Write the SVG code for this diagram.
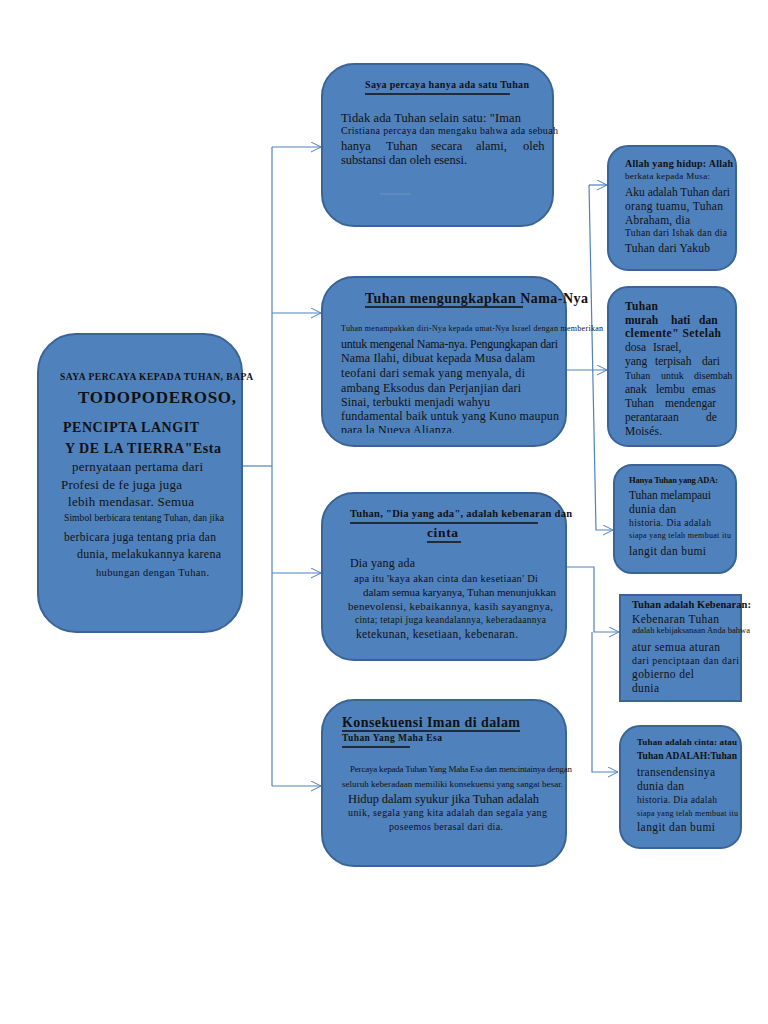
<svg xmlns="http://www.w3.org/2000/svg" width="768" height="1024" viewBox="0 0 768 1024">
<defs>
<marker id="arr" markerWidth="12" markerHeight="12" refX="10" refY="5" orient="auto" markerUnits="userSpaceOnUse">
<path d="M0,0 L10,5 L0,10" fill="none" stroke="#4f81bd" stroke-width="1"/>
</marker>
<clipPath id="clipN2"><rect x="322" y="277" width="244" height="156"/></clipPath>
</defs>
<style>
.node{fill:#4f81bd;stroke:#3a6396;stroke-width:2}
.conn{fill:none;stroke:#4f81bd;stroke-width:1.2}
text{font-family:"Liberation Serif","Times New Roman",serif;fill:#111}
.b{font-weight:bold}
.ul{stroke:#111;stroke-width:1.5}
</style>
<rect width="768" height="1024" fill="#ffffff"/>

<g id="connectors">
<path class="conn" d="M242,466 H272"/>
<path class="conn" d="M272,147 V786"/>
<path class="conn" d="M272,147 H321" marker-end="url(#arr)"/>
<path class="conn" d="M272,313 H321" marker-end="url(#arr)"/>
<path class="conn" d="M272,573 H321" marker-end="url(#arr)"/>
<path class="conn" d="M272,786 H321" marker-end="url(#arr)"/>
<path class="conn" d="M566,370 H607" marker-end="url(#arr)"/>
<path class="conn" d="M589,185 L596,530 H613" marker-end="url(#arr)"/>
<path class="conn" d="M589,185 H607" marker-end="url(#arr)"/>
<path class="conn" d="M566,567 H594 V632 H619" marker-end="url(#arr)"/>
<path class="conn" d="M592,632 V772 H618" marker-end="url(#arr)"/>
</g>

<g id="node-main">
<rect class="node" x="38" y="334" width="204" height="298" rx="38"/>
<text class="b" x="60" y="380" font-size="9.5" textLength="193">SAYA PERCAYA KEPADA TUHAN, BAPA</text>
<text class="b" x="78" y="403" font-size="17" textLength="158">TODOPODEROSO,</text>
<text class="b" x="63" y="432" font-size="14" textLength="136">PENCIPTA LANGIT</text>
<text class="b" x="65" y="453" font-size="14" textLength="156">Y DE LA TIERRA"Esta</text>
<text x="72" y="471" font-size="13" textLength="131">pernyataan pertama dari</text>
<text x="61" y="489" font-size="13" textLength="121">Profesi de fe juga juga</text>
<text x="68" y="506" font-size="13" textLength="126">lebih mendasar. Semua</text>
<text x="64" y="521" font-size="9.5" textLength="160">Simbol berbicara tentang Tuhan, dan jika</text>
<text x="64" y="541" font-size="11.5" textLength="152">berbicara juga tentang pria dan</text>
<text x="77" y="558" font-size="12" textLength="144">dunia, melakukannya karena</text>
<text x="96" y="576" font-size="10.5" textLength="113">hubungan dengan Tuhan.</text>
</g>

<g id="node-satu">
<rect class="node" x="322" y="64" width="231" height="162" rx="32"/>
<text class="b" x="365" y="88" font-size="10" textLength="164">Saya percaya hanya ada satu Tuhan</text>
<line class="ul" x1="365" y1="94" x2="510" y2="94"/>
<text x="341" y="122" font-size="12.5" textLength="180">Tidak ada Tuhan selain satu: "Iman</text>
<text x="341" y="134" font-size="10" textLength="217">Cristiana percaya dan mengaku bahwa ada sebuah</text>
<text y="150" font-size="12.5"><tspan x="341">hanya</tspan><tspan x="386">Tuhan</tspan><tspan x="431">secara</tspan><tspan x="476">alami,</tspan><tspan x="523">oleh</tspan></text>
<text x="341" y="164" font-size="12.5" textLength="126">substansi dan oleh esensi.</text>
<line x1="380" y1="194" x2="411" y2="194" stroke="#6f93c6" stroke-width="1"/>
</g>

<g id="node-nama">
<rect class="node" x="322" y="277" width="244" height="169" rx="32"/>
<text class="b" x="365" y="303" font-size="14" textLength="223">Tuhan mengungkapkan Nama-Nya</text>
<line class="ul" x1="365" y1="307" x2="523" y2="307" stroke-width="1.2"/>
<text x="341" y="331" font-size="8" textLength="262">Tuhan menampakkan diri-Nya kepada umat-Nya Israel dengan memberikan</text>
<text x="341" y="348" font-size="12" textLength="217">untuk mengenal Nama-nya. Pengungkapan dari</text>
<text x="341" y="362" font-size="12" textLength="194">Nama Ilahi, dibuat kepada Musa dalam</text>
<text x="341" y="377" font-size="12" textLength="184">teofani dari semak yang menyala, di</text>
<text x="341" y="392" font-size="12" textLength="180">ambang Eksodus dan Perjanjian dari</text>
<text x="341" y="406" font-size="12" textLength="149">Sinai, terbukti menjadi wahyu</text>
<text x="341" y="420" font-size="12" textLength="218">fundamental baik untuk yang Kuno maupun</text>
<text x="341" y="434" font-size="12" textLength="114" clip-path="url(#clipN2)">para la Nueva Alianza.</text>
</g>

<g id="node-ada">
<rect class="node" x="322" y="493" width="244" height="167" rx="32"/>
<text class="b" x="350" y="517" font-size="10.5" textLength="222">Tuhan, "Dia yang ada", adalah kebenaran dan</text>
<line class="ul" x1="350" y1="523" x2="538" y2="523"/>
<text class="b" x="427" y="537" font-size="13.5" textLength="31">cinta</text>
<line class="ul" x1="427" y1="542" x2="461" y2="542"/>
<text x="350" y="567" font-size="12" textLength="65">Dia yang ada</text>
<text x="354" y="582" font-size="10.5" textLength="184">apa itu 'kaya akan cinta dan kesetiaan' Di</text>
<text x="363" y="596" font-size="11" textLength="193">dalam semua karyanya, Tuhan menunjukkan</text>
<text x="348" y="610" font-size="11" textLength="205">benevolensi, kebaikannya, kasih sayangnya,</text>
<text x="355" y="623" font-size="9.5" textLength="191">cinta; tetapi juga keandalannya, keberadaannya</text>
<text x="356" y="638" font-size="11.5" textLength="162">ketekunan, kesetiaan, kebenaran.</text>
</g>

<g id="node-konsekuensi">
<rect class="node" x="322" y="700" width="244" height="166" rx="32"/>
<text class="b" x="342" y="727" font-size="14" textLength="178">Konsekuensi Iman di dalam</text>
<line class="ul" x1="342" y1="731" x2="520" y2="731" stroke-width="1.2"/>
<text class="b" x="342" y="741" font-size="9.5" textLength="100">Tuhan Yang Maha Esa</text>
<line class="ul" x1="342" y1="747" x2="410" y2="747" stroke-width="2"/>
<text x="350" y="772" font-size="9" textLength="222">Percaya kepada Tuhan Yang Maha Esa dan mencintainya dengan</text>
<text x="342" y="787" font-size="9" textLength="221">seluruh keberadaan memiliki konsekuensi yang sangat besar.</text>
<text x="348" y="803" font-size="12.5" textLength="191">Hidup dalam syukur jika Tuhan adalah</text>
<text x="348" y="816" font-size="10" textLength="199">unik, segala yang kita adalah dan segala yang</text>
<text x="389" y="830" font-size="10" textLength="114">poseemos berasal dari dia.</text>
</g>

<g id="node-hidup">
<rect class="node" x="608" y="146" width="128" height="124" rx="20"/>
<text class="b" x="625" y="167" font-size="10" textLength="108">Allah yang hidup: Allah</text>
<text x="625" y="179" font-size="9" textLength="85">berkata kepada Musa:</text>
<text x="625" y="196" font-size="11.5" textLength="105">Aku adalah Tuhan dari</text>
<text x="625" y="210" font-size="11.5" textLength="98">orang tuamu, Tuhan</text>
<text x="625" y="224" font-size="11.5" textLength="65">Abraham, dia</text>
<text x="625" y="236" font-size="9.5" textLength="102">Tuhan dari Ishak dan dia</text>
<text x="625" y="252" font-size="11.5" textLength="85">Tuhan dari Yakub</text>
</g>

<g id="node-murah">
<rect class="node" x="608" y="287" width="128" height="159" rx="20"/>
<text class="b" x="625" y="310" font-size="11.5" textLength="33">Tuhan</text>
<text class="b" y="324" font-size="11.5"><tspan x="625">murah</tspan><tspan x="671">hati</tspan><tspan x="699">dan</tspan></text>
<text class="b" x="625" y="337" font-size="11.5" textLength="96">clemente" Setelah</text>
<text y="351" font-size="11.5"><tspan x="625">dosa</tspan><tspan x="653">Israel,</tspan></text>
<text y="365" font-size="11.5"><tspan x="625">yang</tspan><tspan x="655">terpisah</tspan><tspan x="702">dari</tspan></text>
<text y="379" font-size="10"><tspan x="625">Tuhan</tspan><tspan x="661">untuk</tspan><tspan x="694">disembah</tspan></text>
<text y="393" font-size="11.5"><tspan x="625">anak</tspan><tspan x="656">lembu</tspan><tspan x="692">emas</tspan></text>
<text y="407" font-size="11.5"><tspan x="625">Tuhan</tspan><tspan x="665">mendengar</tspan></text>
<text y="421" font-size="11.5"><tspan x="625">perantaraan</tspan><tspan x="706">de</tspan></text>
<text x="625" y="435" font-size="11.5" textLength="37">Moisés.</text>
</g>

<g id="node-hanya">
<rect class="node" x="614" y="465" width="122" height="108" rx="18"/>
<text class="b" x="629" y="483" font-size="8.5" textLength="89">Hanya Tuhan yang ADA:</text>
<text x="629" y="499" font-size="11.5" textLength="82">Tuhan melampaui</text>
<text x="629" y="513" font-size="11.5" textLength="47">dunia dan</text>
<text x="629" y="526" font-size="9.5" textLength="82">historia. Dia adalah</text>
<text x="629" y="538" font-size="8" textLength="102">siapa yang telah membuat itu</text>
<text x="629" y="555" font-size="11.5" textLength="77">langit dan bumi</text>
</g>

<g id="node-kebenaran">
<rect class="node" x="620" y="595" width="121" height="106"/>
<text class="b" x="632" y="608" font-size="10.5" textLength="119">Tuhan adalah Kebenaran:</text>
<text x="632" y="623" font-size="11.5" textLength="87">Kebenaran Tuhan</text>
<text x="632" y="633" font-size="8.5" textLength="118">adalah kebijaksanaan Anda bahwa</text>
<text x="632" y="651" font-size="11.5" textLength="88">atur semua aturan</text>
<text x="632" y="664" font-size="10" textLength="107">dari penciptaan dan dari</text>
<text x="632" y="678" font-size="11.5" textLength="62">gobierno del</text>
<text x="632" y="692" font-size="11.5" textLength="27">dunia</text>
</g>

<g id="node-cinta">
<rect class="node" x="620" y="726" width="121" height="122" rx="20"/>
<text class="b" x="637" y="745" font-size="9" textLength="100">Tuhan adalah cinta: atau</text>
<text class="b" x="637" y="759" font-size="9.5" textLength="100">Tuhan ADALAH:Tuhan</text>
<text x="637" y="776" font-size="11.5" textLength="78">transendensinya</text>
<text x="637" y="790" font-size="11.5" textLength="47">dunia dan</text>
<text x="637" y="803" font-size="9.5" textLength="80">historia. Dia adalah</text>
<text x="637" y="816" font-size="8" textLength="101">siapa yang telah membuat itu</text>
<text x="637" y="831" font-size="11.5" textLength="78">langit dan bumi</text>
</g>
</svg>
